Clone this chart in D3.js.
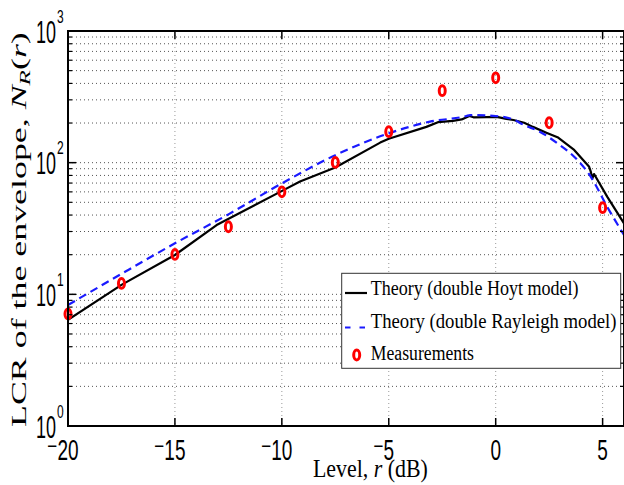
<!DOCTYPE html>
<html><head><meta charset="utf-8">
<script src="https://cdn.jsdelivr.net/npm/d3@7"></script>
<style>body{margin:0;background:#fff} svg{display:block}</style>
</head><body>
<svg id="c" width="624" height="485"></svg>
<script>
// ---- data ----
const xTicks = [-20, -15, -10, -5, 0, 5];
const yExponents = [0, 1, 2, 3];
const hoytX = [-20, -17.5, -15, -13.05, -10.08, -9.15, -7.5, -5.4, -5.0, -3.24, -2.7, -2.0, -1.59, -1.23, -1.04, -0.44, 0.05, 0.5, 0.83, 1.33, 1.74, 2.37, 2.89, 3.67, 4.37, 4.45, 4.52, 4.6, 5.22, 6];
const hoytY = [6.4, 11.8, 19.9, 33.6, 60, 72, 92, 142, 152, 187, 203, 208, 213, 226, 221, 222, 223, 215, 211, 201, 187, 169, 156, 125, 93, 85, 76, 82, 55, 34.6];
const rayX = [-20, -17.5, -15, -12.5, -10, -7.5, -5, -3.07, -1.37, -1.2, 0, 0.81, 1.33, 2.06, 2.89, 3.67, 4.45, 5.22, 6];
const rayY = [8.3, 14.3, 24.4, 40.5, 69.6, 114, 167, 205, 226, 230, 226, 213, 193, 172, 140, 111, 78, 46, 28.2];
const measX = [-20, -17.5, -15, -12.5, -10, -7.5, -5, -2.5, 0, 2.5, 5];
const measY = [7.1, 12.1, 20.1, 32.6, 60.1, 100.5, 172, 352, 441, 201, 45.5];
const legendLabels = ["Theory (double Hoyt model)", "Theory (double Rayleigh model)", "Measurements"];
const xLabel = "Level, ";
const yLabel = "LCR of the envelope, ";

// ---- layout ----
const L = 68, R = 624, T = 31, B = 426;
const x = d3.scaleLinear().domain([-20, 6]).range([L, R]);
const y = d3.scaleLog().domain([1, 1000]).range([B, T]);
const svg = d3.select('#c');
const SANS = "'Liberation Sans', Arial, sans-serif";
const SERIF = "'Liberation Serif', 'Times New Roman', serif";

// grid
const minorVals = [];
for (let d = 0; d < 3; d++) for (let k = 2; k <= 9; k++) minorVals.push(k * Math.pow(10, d));
const hVals = minorVals.concat([10, 100]);
const grid = svg.append('g');
grid.selectAll('line.h').data(hVals).enter().append('line')
  .attr('x1', L).attr('x2', R).attr('y1', d => y(d)).attr('y2', d => y(d))
  .attr('stroke', '#555').attr('stroke-width', 1).attr('stroke-dasharray', '1,3');
grid.selectAll('line.v').data(xTicks.filter(t => t > -20)).enter().append('line')
  .attr('y1', T).attr('y2', B).attr('x1', d => x(d)).attr('x2', d => x(d))
  .attr('stroke', '#999').attr('stroke-width', 1).attr('stroke-dasharray', '1,3');

// clip
svg.append('clipPath').attr('id', 'clip').append('rect')
  .attr('x', L).attr('y', T).attr('width', R - L).attr('height', B - T);

const line = d3.line().x(d => x(d[0])).y(d => y(d[1]));
svg.append('path').datum(d3.zip(hoytX, hoytY)).attr('clip-path', 'url(#clip)')
  .attr('d', line).attr('fill', 'none').attr('stroke', '#000').attr('stroke-width', 2.2)
  .attr('stroke-linejoin', 'round');
svg.append('path').datum(d3.zip(rayX, rayY)).attr('clip-path', 'url(#clip)')
  .attr('d', line.curve(d3.curveMonotoneX)).attr('fill', 'none').attr('stroke', '#1a1aff')
  .attr('stroke-width', 2.2).attr('stroke-dasharray', '8,5');

svg.append('g').selectAll('ellipse').data(d3.zip(measX, measY)).enter().append('ellipse')
  .attr('cx', d => x(d[0])).attr('cy', d => y(d[1])).attr('rx', 3).attr('ry', 4.9)
  .attr('fill', 'none').attr('stroke', '#ff0000').attr('stroke-width', 3);

// axes box and ticks
const ax = svg.append('g').attr('stroke', '#000');
ax.append('rect').attr('x', L).attr('y', T).attr('width', R - L).attr('height', B - T)
  .attr('fill', 'none').attr('stroke-width', 2);
xTicks.forEach(t => {
  ax.append('line').attr('x1', x(t)).attr('x2', x(t)).attr('y1', B).attr('y2', B - 8).attr('stroke-width', 1.5);
  ax.append('line').attr('x1', x(t)).attr('x2', x(t)).attr('y1', T).attr('y2', T + 8).attr('stroke-width', 1.5);
});
yExponents.forEach(e => {
  const v = Math.pow(10, e);
  ax.append('line').attr('x1', L).attr('x2', L + 8).attr('y1', y(v)).attr('y2', y(v)).attr('stroke-width', 1.5);
  ax.append('line').attr('x1', R).attr('x2', R - 8).attr('y1', y(v)).attr('y2', y(v)).attr('stroke-width', 1.5);
});
minorVals.forEach(v => {
  ax.append('line').attr('x1', L).attr('x2', L + 4).attr('y1', y(v)).attr('y2', y(v)).attr('stroke-width', 1.2);
  ax.append('line').attr('x1', R).attr('x2', R - 4).attr('y1', y(v)).attr('y2', y(v)).attr('stroke-width', 1.2);
});

// x tick labels
const tl = svg.append('g').attr('font-family', SANS).attr('fill', '#000');
xTicks.forEach(t => {
  const digits = String(Math.abs(t));
  const g = tl.append('g').attr('transform', `translate(${x(t)},460) scale(1,1.55)`);
  const dt = g.append('text').attr('text-anchor', 'middle').attr('font-size', 19).text(digits);
  if (t < 0) {
    const w = dt.node().getComputedTextLength();
    g.append('text').attr('text-anchor', 'end').attr('font-size', 15)
      .attr('x', -w / 2 - 1).attr('y', -5).text('\u2013');
  }
});
// y tick labels
yExponents.forEach(e => {
  const yy = y(Math.pow(10, e));
  tl.append('text').attr('transform', `translate(56,${yy + 11.5}) scale(1,1.75)`)
    .attr('text-anchor', 'end').attr('font-size', 18).text('10');
  tl.append('text').attr('transform', `translate(57,${yy - 8.5}) scale(1,1.6)`)
    .attr('text-anchor', 'start').attr('font-size', 12).text(String(e));
});

// fit helper
function fitTo(sel, target, sy, tx, ty, rot) {
  const w = sel.node().getComputedTextLength();
  sel.attr('transform', `translate(${tx},${ty})${rot ? ' rotate(-90)' : ''} scale(${target / w},${sy})`);
}

// x label
const xl = svg.append('text').attr('font-family', SERIF).attr('font-size', 20).attr('fill', '#000');
xl.append('tspan').text(xLabel);
xl.append('tspan').attr('font-style', 'italic').text('r');
xl.append('tspan').text(' (dB)');
fitTo(xl, 115, 1.3, 313, 476.5, false);

// y label
const yl = svg.append('text').attr('font-family', SERIF).attr('font-size', 20).attr('fill', '#000')
  .attr('text-anchor', 'start');
yl.append('tspan').text(yLabel);
yl.append('tspan').attr('font-style', 'italic').text('N');
yl.append('tspan').attr('font-style', 'italic').attr('font-size', 14).attr('dy', 4).text('R');
yl.append('tspan').attr('dy', -4).text('(');
yl.append('tspan').attr('font-style', 'italic').text('r');
yl.append('tspan').text(')');
fitTo(yl, 395, 1.0, 25.5, 427, true);

// legend
const lg = svg.append('g');
lg.append('rect').attr('x', 341.7).attr('y', 273.3).attr('width', 279).attr('height', 95)
  .attr('fill', '#fff').attr('stroke', '#333').attr('stroke-width', 1);
const rowsY = [295, 327.5, 360];
const rowsW = [208, 246, 103.3];
lg.append('line').attr('x1', 345).attr('x2', 367).attr('y1', 293).attr('y2', 293)
  .attr('stroke', '#000').attr('stroke-width', 2.2);
lg.append('line').attr('x1', 345).attr('x2', 366).attr('y1', 327.5).attr('y2', 327.5)
  .attr('stroke', '#1a1aff').attr('stroke-width', 2.2).attr('stroke-dasharray', '5.5,9');
lg.append('ellipse').attr('cx', 356.7).attr('cy', 355).attr('rx', 3).attr('ry', 4.9)
  .attr('fill', 'none').attr('stroke', '#ff0000').attr('stroke-width', 3);
legendLabels.forEach((s, i) => {
  const t = lg.append('text').attr('font-family', SERIF).attr('font-size', 18).attr('fill', '#000').text(s);
  fitTo(t, rowsW[i], 1.2, 370.7, rowsY[i], false);
});
</script>
</body></html>
